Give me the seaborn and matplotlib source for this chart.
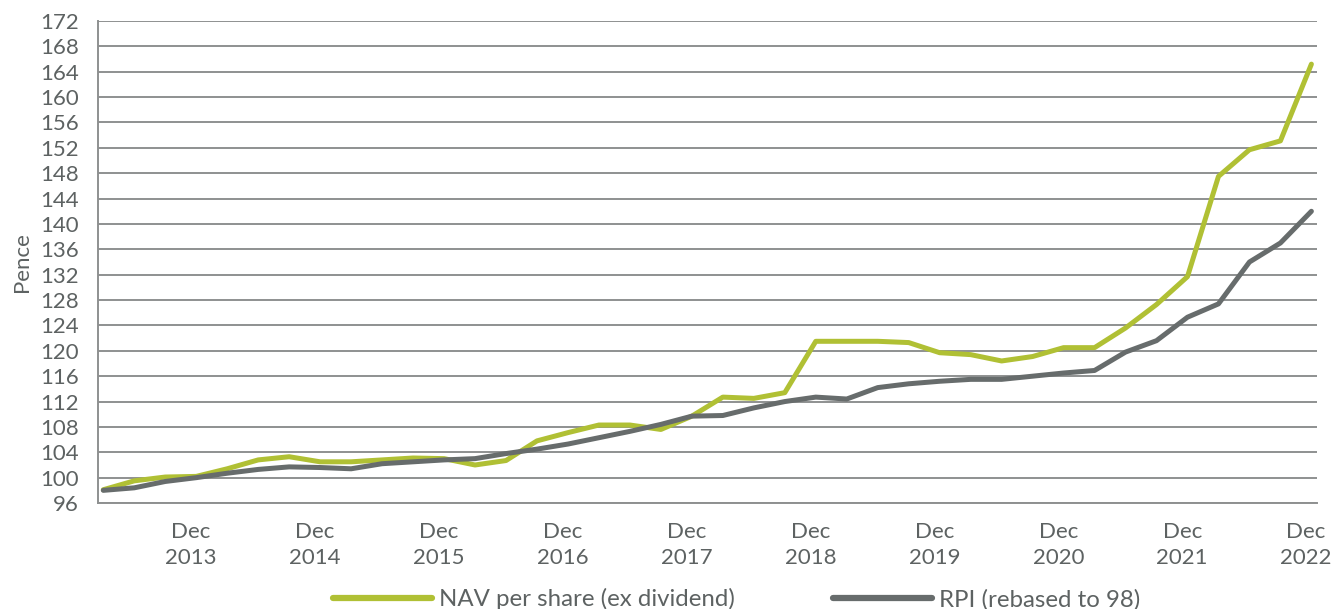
import matplotlib
matplotlib.use("Agg")
import matplotlib.pyplot as plt
import numpy as np
import pandas as pd
import seaborn as sns

# quarterly points, Mar 2013 .. Dec 2022
quarters = pd.period_range("2013Q1", "2022Q4", freq="Q").strftime("%b %Y").tolist()

nav = [98.1, 99.5, 100.1, 100.2, 101.4, 102.8, 103.3, 102.5, 102.5, 102.8,
       103.1, 103.0, 102.0, 102.7, 105.8, 107.1, 108.3, 108.3, 107.6, 109.7,
       112.7, 112.5, 113.4, 121.5, 121.5, 121.5, 121.3, 119.7, 119.4, 118.4,
       119.1, 120.5, 120.5, 123.6, 127.3, 131.7, 147.5, 151.7, 153.1, 165.2]
rpi = [98.0, 98.4, 99.4, 100.0, 100.7, 101.3, 101.7, 101.6, 101.4, 102.2,
       102.5, 102.8, 103.0, 103.8, 104.5, 105.3, 106.3, 107.3, 108.4, 109.7,
       109.8, 111.0, 112.0, 112.7, 112.4, 114.2, 114.8, 115.2, 115.5, 115.5,
       116.0, 116.5, 116.9, 119.8, 121.6, 125.3, 127.4, 134.0, 137.0, 142.0]

series_names = ["NAV per share (ex dividend)", "RPI (rebased to 98)"]
year_labels = [f"Dec\n{y}" for y in range(2013, 2023)]
y_ticks = list(range(96, 173, 4))

GREEN = "#b0c034"
GREY = "#676c6c"
GRID = "#8e9090"
TEXT = "#5d6262"

df = pd.DataFrame({
    "q": list(range(len(quarters))) * 2,
    "value": nav + rpi,
    "series": [series_names[0]] * len(nav) + [series_names[1]] * len(rpi),
})

sns.set_style("white")
plt.rcParams["font.family"] = ["Lato", "DejaVu Sans"]

fig = plt.figure(figsize=(13.34, 6.09), dpi=100)
ax = fig.add_axes([0.0735, 0.174, 0.9135, 0.7915])

sns.lineplot(data=df, x="q", y="value", hue="series",
             palette=[GREEN, GREY], linewidth=3.6, ax=ax, legend=True)

off = 0.17
ax.set_xlim(-off, len(quarters) - 1 + off)
ax.set_ylim(96, 172)
ax.set_yticks(y_ticks)
ax.set_yticklabels([str(t) for t in y_ticks])
dec_pos = [3 + 4 * k - off for k in range(len(year_labels))]
ax.set_xticks([-off] + dec_pos)
ax.set_xticklabels([""] + year_labels, linespacing=1.32)

ax.grid(axis="y", color=GRID, linewidth=1.4)
ax.set_axisbelow(True)
for s in ["top", "right"]:
    ax.spines[s].set_visible(False)
for s in ["left", "bottom"]:
    ax.spines[s].set_color(GRID)
    ax.spines[s].set_linewidth(1.4)
ax.tick_params(axis="both", colors=GRID, length=7, width=1.4,
               labelcolor=TEXT, labelsize=16)
ax.tick_params(axis="y", pad=7)
ax.tick_params(axis="x", pad=7)

ax.set_xlabel("")
ax.set_ylabel("Pence", color=TEXT, fontsize=16)
ax.yaxis.set_label_coords(-0.054, 0.5)

leg = ax.legend(loc="center", bbox_to_anchor=(0.524, -0.2), ncol=2,
                frameon=False, fontsize=17.3, handlelength=4.1,
                columnspacing=4.1, handletextpad=0.3)
for t in leg.get_texts():
    t.set_color(TEXT)
for h in leg.get_lines():
    h.set_linewidth(4.5)
    h.set_solid_capstyle("round")

fig.savefig("out.png", dpi=100)
